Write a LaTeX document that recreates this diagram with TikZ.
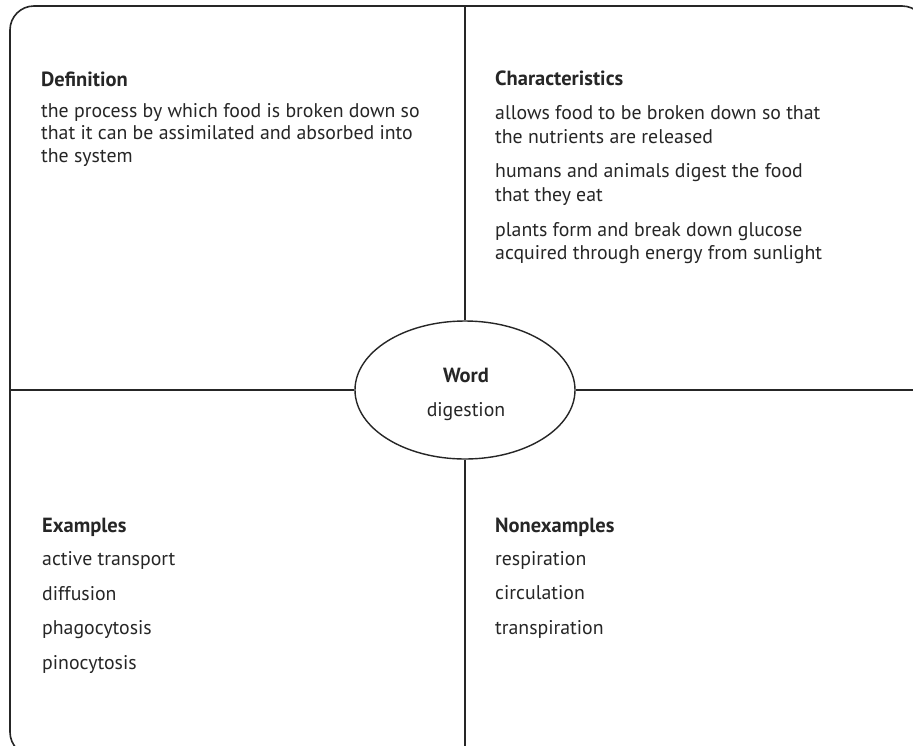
\documentclass[tikz,border=0pt]{standalone}
\usepackage{fontspec}
\setmainfont{PT Sans}
\usetikzlibrary{shapes.geometric}
\definecolor{ink}{gray}{0.15}
\tikzset{
  frame/.style={draw=ink, line width=1.6pt},
  divider/.style={draw=ink, line width=1.6pt},
  head/.style={anchor=base west, inner sep=0pt, font=\fontsize{20.5}{24}\selectfont\bfseries, text=ink},
  body/.style={anchor=base west, inner sep=0pt, font=\fontsize{19.8}{23}\selectfont, text=ink},
  wordtext/.style={anchor=base, inner sep=0pt, text=ink},
  oval/.style={ellipse, draw=ink, line width=1.4pt, minimum width=220pt, minimum height=138pt, inner sep=0pt, fill=white}
}
\begin{document}
\begin{tikzpicture}[x=1pt, y=-1pt]
\useasboundingbox (0,0) rectangle (913,745);
\fill[white] (0,0) rectangle (913,745);
% outer frame (partly beyond the picture edges)
\coordinate (tl) at (10,6);
\coordinate (br) at (926,756);
\draw[frame, rounded corners=24pt] (tl) rectangle (br);
% centre ellipse
\node[oval] (e) at (465,390) {};
\coordinate (top) at (464,6);
\coordinate (bot) at (466,760);
\coordinate (lft) at (10,390);
\coordinate (rgt) at (926,390);
\draw[divider] (e.north) -- (e.north |- top);
\draw[divider] (e.south) -- (e.south |- bot);
\draw[divider] (e.west) -- (lft);
\draw[divider] (e.east) -- (rgt);
\node[wordtext, font=\fontsize{20.5}{24}\selectfont\bfseries] (w) at (466,382) {Word};
\node[wordtext, font=\fontsize{19.8}{23}\selectfont] (d) at (466,416) {digestion};
% Definition
\node[head] (dh) at (41,86) {Definition};
\node[body] (d1) at (41,117) {the process by which food is broken down so};
\node[body] (d2) at (41,139.5) {that it can be assimilated and absorbed into};
\node[body] (d3) at (41,162) {the system};
% Characteristics
\node[head] (ch) at (495,85) {Characteristics};
\node[body] (c1) at (495,119) {allows food to be broken down so that};
\node[body] (c2) at (495,143) {the nutrients are released};
\node[body] (c3) at (495,177) {humans and animals digest the food};
\node[body] (c4) at (495,201) {that they eat};
\node[body] (c5) at (495,236) {plants form and break down glucose};
\node[body] (c6) at (495,259) {acquired through energy from sunlight};
% Examples
\node[head] (eh) at (42,532) {Examples};
\node[body] (e1) at (42,565) {active transport};
\node[body] (e2) at (42,600) {diffusion};
\node[body] (e3) at (42,634) {phagocytosis};
\node[body] (e4) at (42,669) {pinocytosis};
% Nonexamples
\node[head] (nh) at (495,532) {Nonexamples};
\node[body] (n1) at (495,565) {respiration};
\node[body] (n2) at (495,599) {circulation};
\node[body] (n3) at (495,634) {transpiration};
\end{tikzpicture}
\end{document}
